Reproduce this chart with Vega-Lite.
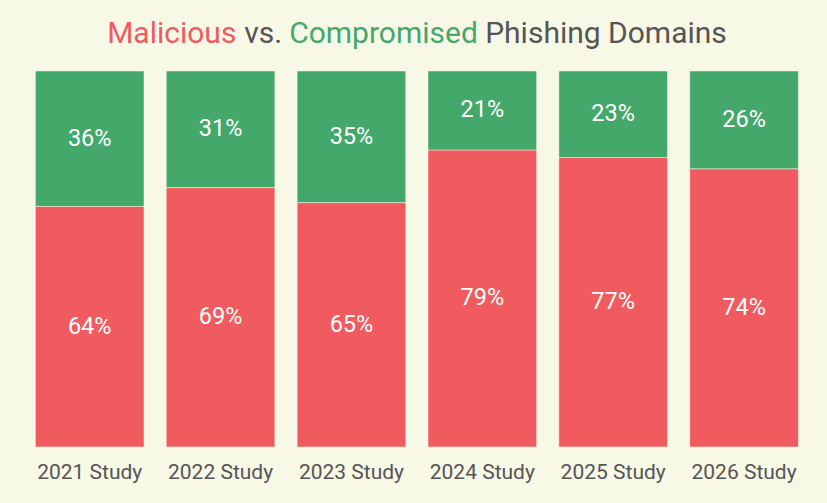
{
  "$schema": "https://vega.github.io/schema/vega-lite/v6.json",
  "background": "#f8f8e7",
  "padding": {"left": 35, "top": 19, "right": 29, "bottom": 22},
  "config": {
    "view": {"stroke": null},
    "font": "Roboto",
    "title": {"fontSize": 30, "fontWeight": "normal", "anchor": "start", "offset": 0, "font": "Roboto"}
  },
  "center": true,
  "spacing": 16,
  "vconcat": [
    {
      "spacing": 7,
      "hconcat": [
        {"title": {"text": "Malicious", "color": "#ef5b5e"}, "width": 1, "height": 1, "data": {"values": []}, "mark": "point"},
        {"title": {"text": "vs.", "color": "#555555"}, "width": 1, "height": 1, "data": {"values": []}, "mark": "point"},
        {"title": {"text": "Compromised", "color": "#43a86a"}, "width": 1, "height": 1, "data": {"values": []}, "mark": "point"},
        {"title": {"text": "Phishing Domains", "color": "#555555"}, "width": 1, "height": 1, "data": {"values": []}, "mark": "point"}
      ]
    },
    {
      "width": 763,
      "height": 376,
      "data": {
        "values": [
          {"study": "2021 Study", "type": "Malicious", "order": 1, "pct": 64, "label": "64%"},
          {"study": "2021 Study", "type": "Compromised", "order": 2, "pct": 36, "label": "36%"},
          {"study": "2022 Study", "type": "Malicious", "order": 1, "pct": 69, "label": "69%"},
          {"study": "2022 Study", "type": "Compromised", "order": 2, "pct": 31, "label": "31%"},
          {"study": "2023 Study", "type": "Malicious", "order": 1, "pct": 65, "label": "65%"},
          {"study": "2023 Study", "type": "Compromised", "order": 2, "pct": 35, "label": "35%"},
          {"study": "2024 Study", "type": "Malicious", "order": 1, "pct": 79, "label": "79%"},
          {"study": "2024 Study", "type": "Compromised", "order": 2, "pct": 21, "label": "21%"},
          {"study": "2025 Study", "type": "Malicious", "order": 1, "pct": 77, "label": "77%"},
          {"study": "2025 Study", "type": "Compromised", "order": 2, "pct": 23, "label": "23%"},
          {"study": "2026 Study", "type": "Malicious", "order": 1, "pct": 74, "label": "74%"},
          {"study": "2026 Study", "type": "Compromised", "order": 2, "pct": 26, "label": "26%"}
        ]
      },
      "transform": [
        {"stack": "pct", "groupby": ["study"], "sort": [{"field": "order", "order": "ascending"}], "as": ["y0", "y1"]}
      ],
      "encoding": {
        "x": {
          "field": "study", "type": "nominal", "title": null,
          "scale": {"paddingInner": 0.17, "paddingOuter": 0},
          "axis": {"labelAngle": 0, "labelFontSize": 21, "labelColor": "#555555", "labelFont": "Roboto", "ticks": false, "domain": false, "labelPadding": 14}
        }
      },
      "layer": [
        {
          "mark": {"type": "bar", "stroke": "#f8f8e7", "strokeWidth": 0.5},
          "encoding": {
            "y": {"field": "y0", "type": "quantitative", "scale": {"domain": [0, 100]}, "axis": null},
            "y2": {"field": "y1"},
            "color": {"field": "type", "type": "nominal", "scale": {"domain": ["Malicious", "Compromised"], "range": ["#ef5b5e", "#43a86a"]}, "legend": null}
          }
        },
        {
          "transform": [
            {"fold": ["y0", "y1"], "as": ["edge", "pos"]},
            {"aggregate": [{"op": "mean", "field": "pos", "as": "mid"}], "groupby": ["study", "type", "label"]}
          ],
          "mark": {"type": "text", "color": "white", "fontSize": 23.5, "font": "Roboto", "baseline": "middle"},
          "encoding": {
            "y": {"field": "mid", "type": "quantitative", "scale": {"domain": [0, 100]}, "axis": null},
            "text": {"field": "label", "type": "nominal"}
          }
        }
      ]
    }
  ]
}
